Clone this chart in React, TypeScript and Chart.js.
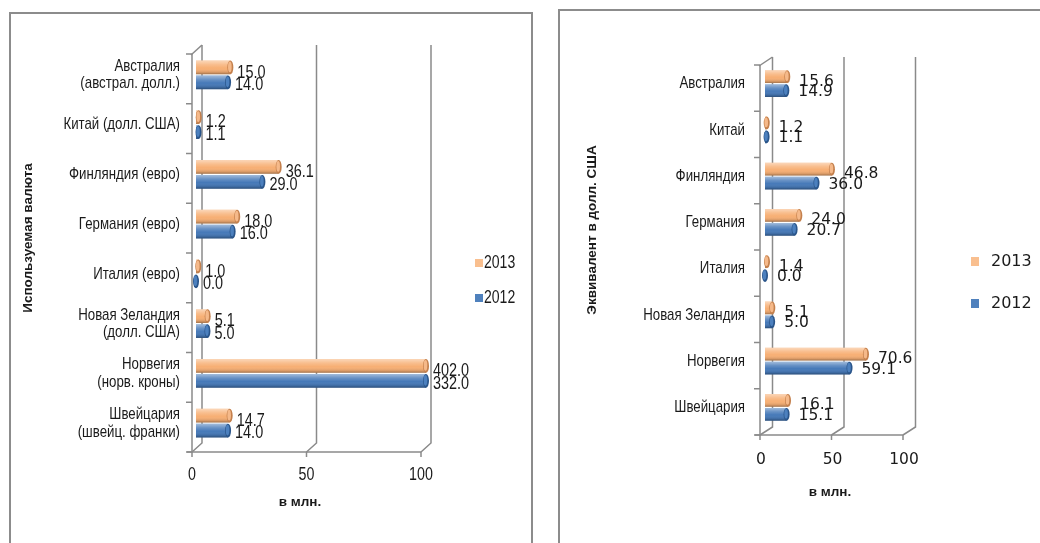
import React, { useEffect, useRef } from "react";
import { Chart, registerables } from "chart.js";
Chart.register(...registerables);

// ---------- data ----------
const seriesLabels = ["2013", "2012"];
const categoriesLocal: string[][] = [
  ["Австралия", "(австрал. долл.)"],
  ["Китай (долл. США)"],
  ["Финляндия (евро)"],
  ["Германия (евро)"],
  ["Италия (евро)"],
  ["Новая Зеландия", "(долл. США)"],
  ["Норвегия", "(норв. кроны)"],
  ["Швейцария", "(швейц. франки)"],
];
const local2013 = [15.0, 1.2, 36.1, 18.0, 1.0, 5.1, 402.0, 14.7];
const local2012 = [14.0, 1.1, 29.0, 16.0, 0.0, 5.0, 332.0, 14.0];

const categoriesUsd = [
  "Австралия",
  "Китай",
  "Финляндия",
  "Германия",
  "Италия",
  "Новая Зеландия",
  "Норвегия",
  "Швейцария",
];
const usd2013 = [15.6, 1.2, 46.8, 24.0, 1.4, 5.1, 70.6, 16.1];
const usd2012 = [14.9, 1.1, 36.0, 20.7, 0.0, 5.0, 59.1, 15.1];

const axisMin = 0;
const axisMax = 100;
const axisStep = 50;
const titleLocalY = "Используемая валюта";
const titleUsdY = "Эквивалент в долл. США";
const titleX = "в млн.";

// ---------- styles ----------
const ARIAL = '"Liberation Sans", Arial, sans-serif';
const WIDE = '"DejaVu Sans", Verdana, sans-serif';
const ORANGE = "#F7AF74";
const BLUE = "#4679B8";
const LEG_ORANGE = "#F9BF8F";
const LEG_BLUE = "#4F81BD";
const CAP_DARK = ["#C4804D", "#2A558A"];
const CAP_LIGHT = ["#F5B98A", "#4C80BE"];
const GRID = "#8a8a8a";
const TEXT = "#1a1a1a";

type TextStyle = { font: string; sx: number };

type Params = {
  categories: any[];
  v2013: number[];
  v2012: number[];
  width: number;
  height: number;
  yAxisW: number;
  padRight: number;
  padTop: number;
  xAxisH: number;
  catFont: any;
  catSx: number;
  catPad: number;
  tickFont: any;
  tickSx: number;
  tickPad: number;
  labelOffset: number;
  front: { dx: number; dy: number };
  back: { dx: number; dy: number };
  yTitle: string;
  yTitlePos: { x: number; y: number };
  xTitlePos: { x: number; y: number };
  legend: { sqX: number; sqW: number; sqH: number; textX: number; rows: number[]; style: TextStyle };
  value: TextStyle;
  valueDx: number;
  valueDy: number[];
};

function drawText(ctx: CanvasRenderingContext2D, text: string, x: number, y: number, st: TextStyle, align: CanvasTextAlign) {
  ctx.save();
  ctx.translate(x, y);
  ctx.scale(st.sx, 1);
  ctx.font = st.font;
  ctx.textAlign = align;
  ctx.textBaseline = "middle";
  ctx.fillStyle = TEXT;
  ctx.fillText(text, 0, 0);
  ctx.restore();
}

// draw the scale's own label items, horizontally condensed around each anchor
function condenseLabels(scale: any, sx: number) {
  if (scale.__condensed) return;
  scale.__condensed = true;
  scale.drawLabels = function (area: any) {
    const ctx = this.ctx as CanvasRenderingContext2D;
    const items = this.getLabelItems(area);
    for (const item of items) {
      const { label, font, options, textOffset } = item;
      const [tx, ty] = options.translation;
      ctx.save();
      ctx.translate(tx, ty);
      ctx.rotate(options.rotation || 0);
      ctx.scale(sx, 1);
      ctx.font = font.string;
      ctx.fillStyle = options.color;
      ctx.textAlign = options.textAlign;
      ctx.textBaseline = options.textBaseline;
      const lines = Array.isArray(label) ? label : [label];
      lines.forEach((ln: string, k: number) => ctx.fillText(ln, 0, textOffset + k * font.lineHeight));
      ctx.restore();
    }
  };
}

function buildChart(canvas: HTMLCanvasElement, p: Params) {
  const clipRight = 1;
  const capW = 3;
  const plugin = {
    id: "custom3d",
    beforeDatasetsDraw(chart: any) {
      const { ctx, chartArea: a, scales } = chart;
      const x = scales.x;
      const y = scales.y;
      const f = p.front;
      const b = p.back;
      const fl = a.left + f.dx;
      const ft = a.top + f.dy;
      const fb = a.bottom + f.dy;
      ctx.save();
      ctx.strokeStyle = GRID;
      ctx.lineWidth = 1.5;
      x.ticks.forEach((t: any) => {
        const px = x.getPixelForValue(t.value) + f.dx;
        ctx.beginPath();
        ctx.moveTo(px, fb);
        ctx.lineTo(px + b.dx, fb + b.dy);
        ctx.lineTo(px + b.dx, ft + b.dy);
        ctx.stroke();
        ctx.beginPath();
        ctx.moveTo(px, fb);
        ctx.lineTo(px, fb + 5);
        ctx.stroke();
      });
      ctx.beginPath();
      ctx.moveTo(fl, ft);
      ctx.lineTo(fl, fb);
      ctx.stroke();
      ctx.beginPath();
      ctx.moveTo(fl - 1, ft + 1);
      ctx.lineTo(fl + b.dx, ft + b.dy);
      ctx.stroke();
      ctx.beginPath();
      ctx.moveTo(fl - 5, fb);
      ctx.lineTo(x.getPixelForValue(axisMax) + f.dx, fb);
      ctx.stroke();
      const n = chart.data.labels.length;
      for (let i = 0; i <= n; i++) {
        const yy = y.getPixelForValue(i - 0.5) + f.dy;
        ctx.beginPath();
        ctx.moveTo(fl - 6, yy);
        ctx.lineTo(fl, yy);
        ctx.stroke();
      }
      ctx.restore();
    },
    afterDatasetsDraw(chart: any) {
      const { ctx, chartArea: a } = chart;
      ctx.save();
      chart.data.datasets.forEach((ds: any, di: number) => {
        const meta = chart.getDatasetMeta(di);
        meta.data.forEach((el: any, i: number) => {
          const { x, y, base, height } = el.getProps(["x", "y", "base", "height"], true);
          const right = Math.min(x, a.right + clipRight);
          const top = y - height / 2;
          if (right > base) {
            const g = ctx.createLinearGradient(0, top, 0, top + height);
            g.addColorStop(0, "rgba(255,255,255,0.5)");
            g.addColorStop(0.3, "rgba(255,255,255,0.18)");
            g.addColorStop(0.55, "rgba(255,255,255,0)");
            g.addColorStop(0.85, "rgba(0,0,0,0.12)");
            g.addColorStop(1, "rgba(0,0,0,0.35)");
            ctx.fillStyle = g;
            ctx.fillRect(base, top, right - base, height);
          }
          ctx.beginPath();
          ctx.ellipse(right, y, capW, height / 2, 0, 0, Math.PI * 2);
          ctx.fillStyle = CAP_DARK[di];
          ctx.fill();
          ctx.beginPath();
          ctx.ellipse(right - 0.5, y - 0.5, capW - 1.2, height / 2 - 1.5, 0, 0, Math.PI * 2);
          ctx.fillStyle = CAP_LIGHT[di];
          ctx.fill();
          drawText(ctx, Number(ds.data[i]).toFixed(1), right + p.valueDx, y + p.valueDy[di], p.value, "left");
        });
      });
      ctx.restore();
    },
    afterDraw(chart: any) {
      const { ctx } = chart;
      ctx.save();
      ctx.fillStyle = TEXT;
      ctx.font = "bold 13.5px " + ARIAL;
      ctx.textAlign = "center";
      ctx.textBaseline = "middle";
      ctx.fillText(titleX, p.xTitlePos.x, p.xTitlePos.y);
      ctx.translate(p.yTitlePos.x, p.yTitlePos.y);
      ctx.rotate(-Math.PI / 2);
      ctx.fillText(p.yTitle, 0, 0);
      ctx.restore();
      ctx.save();
      const L = p.legend;
      const colors = [LEG_ORANGE, LEG_BLUE];
      chart.data.datasets.forEach((ds: any, di: number) => {
        const cy = L.rows[di];
        ctx.fillStyle = colors[di];
        ctx.fillRect(L.sqX, cy - L.sqH / 2, L.sqW, L.sqH);
        drawText(ctx, ds.label, L.textX, cy, L.style, "left");
      });
      ctx.restore();
    },
  };

  const dsCommon = {
    borderWidth: 0,
    categoryPercentage: 0.6,
    barPercentage: 0.92,
    clip: { left: 5, right: clipRight, top: 5, bottom: 5 },
  };

  return new Chart(canvas, {
    type: "bar",
    data: {
      labels: p.categories,
      datasets: [
        { ...dsCommon, label: seriesLabels[0], data: p.v2013, backgroundColor: ORANGE },
        { ...dsCommon, label: seriesLabels[1], data: p.v2012, backgroundColor: BLUE },
      ],
    },
    options: {
      indexAxis: "y",
      animation: false,
      responsive: false,
      maintainAspectRatio: false,
      events: [],
      layout: { padding: { left: 0, right: p.padRight, top: p.padTop, bottom: 0 } },
      plugins: {
        legend: { display: false },
        tooltip: { enabled: false },
        title: { display: false },
      },
      scales: {
        x: {
          type: "linear",
          min: axisMin,
          max: axisMax,
          ticks: {
            stepSize: axisStep,
            font: p.tickFont,
            color: TEXT,
            padding: p.tickPad,
            labelOffset: p.labelOffset,
            maxRotation: 0,
          },
          grid: { display: false, drawTicks: false },
          border: { display: false },
          afterFit: (s: any) => {
            s.height = p.xAxisH;
            condenseLabels(s, p.tickSx);
          },
        },
        y: {
          type: "category",
          ticks: { font: p.catFont, color: TEXT, padding: p.catPad, autoSkip: false },
          grid: { display: false, drawTicks: false },
          border: { display: false },
          afterFit: (s: any) => {
            s.width = p.yAxisW;
            condenseLabels(s, p.catSx);
          },
        },
      },
    } as any,
    plugins: [plugin],
  });
}

const leftParams: Params = {
  categories: categoriesLocal,
  v2013: local2013,
  v2012: local2012,
  width: 545,
  height: 543,
  yAxisW: 196,
  padRight: 120,
  padTop: 50,
  xAxisH: 95,
  catFont: { family: ARIAL, size: 17, lineHeight: 1.03 },
  catSx: 0.78,
  catPad: 16,
  tickFont: { family: ARIAL, size: 19, lineHeight: 1.2 },
  tickSx: 0.75,
  tickPad: 15.6,
  labelOffset: -4,
  front: { dx: -4, dy: 4 },
  back: { dx: 10, dy: -9 },
  yTitle: titleLocalY,
  yTitlePos: { x: 28, y: 238 },
  xTitlePos: { x: 300, y: 502 },
  legend: { sqX: 475, sqW: 8, sqH: 8, textX: 484, rows: [263, 298], style: { font: "18px " + ARIAL, sx: 0.78 } },
  value: { font: "19px " + ARIAL, sx: 0.76 },
  valueDx: 7,
  valueDy: [5, 2.5],
};

const rightParams: Params = {
  categories: categoriesUsd,
  v2013: usd2013,
  v2012: usd2012,
  width: 495,
  height: 543,
  yAxisW: 220,
  padRight: 132,
  padTop: 60.5,
  xAxisH: 112.5,
  catFont: { family: ARIAL, size: 17, lineHeight: 1.1 },
  catSx: 0.78,
  catPad: 20,
  tickFont: { family: WIDE, size: 15.5, lineHeight: 1.2 },
  tickSx: 1,
  tickPad: 20.2,
  labelOffset: -4,
  front: { dx: -5, dy: 4.5 },
  back: { dx: 12.5, dy: -8 },
  yTitle: titleUsdY,
  yTitlePos: { x: 47, y: 230 },
  xTitlePos: { x: 285, y: 492 },
  legend: { sqX: 426, sqW: 8, sqH: 9, textX: 446, rows: [261.5, 303.5], style: { font: "16px " + WIDE, sx: 1 } },
  value: { font: "15.5px " + WIDE, sx: 1 },
  valueDx: 12,
  valueDy: [5, 1.5],
};

function ChartCanvas({ params, left }: { params: Params; left: number }) {
  const ref = useRef<HTMLCanvasElement | null>(null);
  useEffect(() => {
    if (!ref.current) return;
    const c = buildChart(ref.current, params);
    return () => c.destroy();
  }, [params]);
  return (
    <canvas
      ref={ref}
      width={params.width}
      height={params.height}
      style={{ position: "absolute", left, top: 0, width: params.width, height: params.height }}
    />
  );
}

export default function App() {
  return (
    <div
      style={{
        position: "absolute",
        left: 0,
        top: 0,
        width: 1040,
        height: 543,
        overflow: "hidden",
        background: "#ffffff",
      }}
    >
      <div
        style={{
          position: "absolute",
          left: 9,
          top: 12,
          width: 524,
          height: 600,
          border: "2px solid #8c8c8c",
          boxSizing: "border-box",
        }}
      />
      <div
        style={{
          position: "absolute",
          left: 558,
          top: 9,
          width: 600,
          height: 600,
          border: "2px solid #8c8c8c",
          boxSizing: "border-box",
        }}
      />
      <ChartCanvas params={leftParams} left={0} />
      <ChartCanvas params={rightParams} left={545} />
    </div>
  );
}
